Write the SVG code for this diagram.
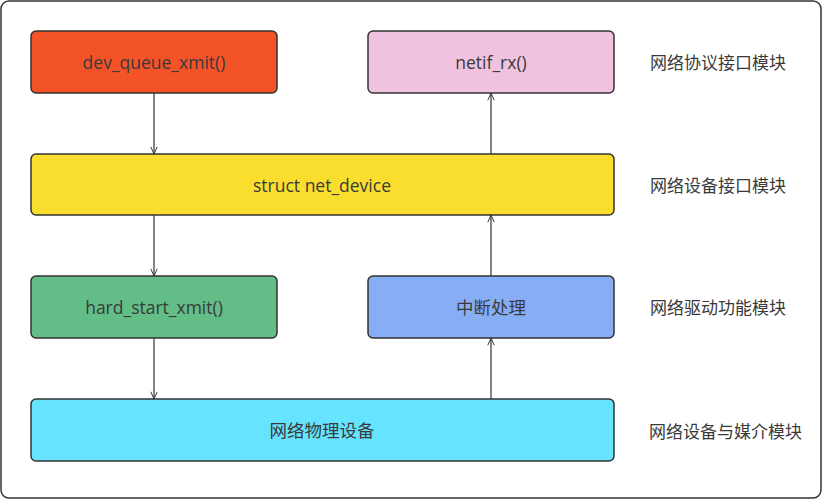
<svg xmlns="http://www.w3.org/2000/svg" width="822" height="500" viewBox="0 0 822 500">
<defs>
<marker id="arr" viewBox="0 0 10 10" refX="10" refY="5" markerWidth="8" markerHeight="8" markerUnits="userSpaceOnUse" orient="auto">
<path d="M1,1 L10,5 L1,9" fill="none" stroke="#333" stroke-width="1.2"/>
</marker>
</defs>
<style>
.box{stroke:#333;stroke-width:1.5}
.t{font-family:"Open Sans","Noto Sans CJK SC",sans-serif;font-size:17.5px;fill:#3a3a3a;text-anchor:middle;dominant-baseline:central}
.side{font-family:"Open Sans","Noto Sans CJK SC",sans-serif;font-size:17px;fill:#3a3a3a;dominant-baseline:central}
.c{stroke:#333;stroke-width:1.2;fill:none;marker-end:url(#arr)}
</style>
<rect x="1" y="1" width="820" height="497" rx="8" fill="#fff" stroke="#333" stroke-width="1.5"/>
<g id="connectors">
<line class="c" x1="154" y1="93" x2="154" y2="154"/>
<line class="c" x1="154" y1="215" x2="154" y2="276"/>
<line class="c" x1="154" y1="338" x2="154" y2="399"/>
<line class="c" x1="491" y1="399" x2="491" y2="338"/>
<line class="c" x1="491" y1="276" x2="491" y2="215"/>
<line class="c" x1="491" y1="154" x2="491" y2="93"/>
</g>
<g id="dev_queue_xmit"><rect class="box" x="31" y="31" width="246" height="62" rx="5" fill="#F45328"/><text class="t" x="154" y="62">dev_queue_xmit()</text></g>
<g id="netif_rx"><rect class="box" x="368" y="31" width="246" height="62" rx="5" fill="#F0C2DF"/><text class="t" x="491" y="62">netif_rx()</text></g>
<g id="net_device"><rect class="box" x="31" y="154" width="583" height="61" rx="5" fill="#F9DE2E"/><text class="t" x="322" y="185">struct net_device</text></g>
<g id="hard_start_xmit"><rect class="box" x="31" y="276" width="246" height="62" rx="5" fill="#62BD86"/><text class="t" x="154" y="307">hard_start_xmit()</text></g>
<g id="irq"><rect class="box" x="368" y="276" width="246" height="62" rx="5" fill="#87AEF5"/><text class="t" x="491" y="307">中断处理</text></g>
<g id="phy"><rect class="box" x="31" y="399" width="583" height="62" rx="5" fill="#66E3FE"/><text class="t" x="322" y="430">网络物理设备</text></g>
<g id="labels">
<text class="side" x="650" y="62">网络协议接口模块</text>
<text class="side" x="650" y="185">网络设备接口模块</text>
<text class="side" x="650" y="307">网络驱动功能模块</text>
<text class="side" x="649" y="431">网络设备与媒介模块</text>
</g>
</svg>
